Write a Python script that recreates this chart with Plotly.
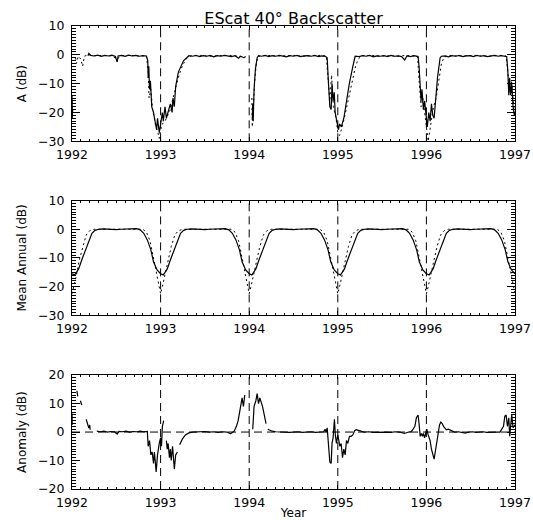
import plotly.graph_objects as go

# ---------------- data ----------------
# Panel 1: A (dB), solid series
a_year = [1992.000, 1992.004, 1992.008, None,
          1992.18, 1992.19, 1992.21, 1992.25, 1992.29, 1992.33, 1992.37, 1992.41, 1992.45, 1992.49,
          1992.51, 1992.52, 1992.56, 1992.60, 1992.64, 1992.68, 1992.72, 1992.76, 1992.80, 1992.84,
          1992.855, 1992.86, 1992.867, 1992.875, 1992.885, 1992.90, 1992.92, 1992.94, 1992.955,
          1992.965, 1992.985, 1993.00, 1993.02, 1993.03, 1993.05, 1993.065, 1993.085, 1993.11,
          1993.13, 1993.14, 1993.155, 1993.17, 1993.20, 1993.26, 1993.32, 1993.36, 1993.40,
          1993.44, 1993.48, 1993.52, 1993.56, 1993.60, 1993.64, 1993.68, 1993.72, 1993.76,
          1993.80, 1993.84, 1993.88, 1993.90, 1993.94, 1993.96, None,
          1994.035, 1994.04, 1994.045, 1994.055, 1994.07, 1994.09, 1994.105, 1994.14, 1994.18,
          1994.22, 1994.26, 1994.30, 1994.34, 1994.38, 1994.42, 1994.46, 1994.50, 1994.54,
          1994.58, 1994.62, 1994.66, 1994.70, 1994.74, 1994.78, 1994.82, 1994.86,
          1994.88, 1994.895, 1994.91, 1994.925, 1994.935, 1994.947, 1994.96, 1994.97, 1994.99,
          1995.007, 1995.02, 1995.04, 1995.068, 1995.098, 1995.13, 1995.17, 1995.196,
          1995.24, 1995.28, 1995.32, 1995.36, 1995.40, 1995.44, 1995.48, 1995.52, 1995.56,
          1995.60, 1995.64, 1995.68, 1995.72, 1995.755, 1995.78, 1995.82, 1995.86, 1995.906,
          1995.917, 1995.93, 1995.94, 1995.95, 1995.966, 1995.98, 1996.00, 1996.01, 1996.027,
          1996.042, 1996.057, 1996.072, 1996.087, 1996.10, 1996.125, 1996.155, 1996.17,
          1996.21, 1996.25, 1996.29, 1996.33, 1996.37, 1996.41, 1996.45, 1996.49, 1996.53,
          1996.57, 1996.61, 1996.65, 1996.69, 1996.73, 1996.77, 1996.81, 1996.85, 1996.88,
          1996.906, 1996.918, 1996.93, 1996.94, 1996.95, 1996.963, 1996.978, 1996.993, 1997.0]
a_db = [-14, -21, -19, None,
        -0.3, 0.5, -0.2, -0.4, -0.1, -0.5, -0.2, -0.4, -0.1, -0.6,
        -2.5, -0.4, -0.2, -0.5, -0.1, -0.4, -0.2, -0.5, -0.3, -0.4,
        -2, -8, -4, -12, -9, -18, -20, -23, -26,
        -22, -27, -24, -20, -23, -18, -22, -20, -17,
        -20, -15, -18, -11, -6, -2, -0.3, -0.5, -0.2,
        -0.6, -0.3, -0.5, -0.2, -0.7, -0.3, -0.5, -0.2, -0.4,
        -0.6, -0.3, -1.2, -0.5, -1.0, -0.6, None,
        -22, -17, -23, -12, -5, -1, -0.3, -0.5, -0.2,
        -0.6, -0.3, -0.5, -0.2, -0.4, -0.7, -0.3, -0.5, -0.2,
        -0.6, -0.4, -0.3, -0.5, -0.2, -0.6, -0.4, -0.5,
        -1, -10, -18, -19, -10, -16, -13, -20, -24,
        -26, -24, -25, -22, -16, -10, -4, -0.5,
        -0.6, -0.3, -0.5, -0.2, -0.7, -0.4, -0.5, -0.3, -0.6,
        -0.2, -0.5, -0.4, -0.6, -1.8, -0.4, -0.6, -0.3, -0.6,
        -4, -14, -16, -12, -19, -16, -22, -25, -20,
        -23, -17, -21, -22, -16, -8, -1, -0.5,
        -0.4, -0.7, -0.3, -0.5, -0.2, -0.6, -0.4, -0.3, -0.6,
        -0.2, -0.5, -0.3, -0.6, -0.4, -0.2, -0.5, -0.3, -0.5,
        -0.6, -5, -14, -8, -14, -10, -18, -21, -20]

# Panel 1: second (dotted) series
b_year = [1992.000, 1992.005, None,
          1992.04, 1992.05, 1992.07, 1992.10, 1992.12, 1992.14, 1992.18, 1992.25, 1992.35,
          1992.45, 1992.51, 1992.55, 1992.65, 1992.75, 1992.84,
          1992.86, 1992.87, 1992.89, 1992.91, 1992.94, 1992.97, 1992.985, 1993.00, 1993.02,
          1993.05, 1993.08, 1993.11, 1993.14, 1993.17, 1993.20, 1993.23, 1993.26, 1993.30,
          1993.35, 1993.45, 1993.55, 1993.65, 1993.75, 1993.85, 1993.95, None,
          1994.03, 1994.035, 1994.045, 1994.06, 1994.08, 1994.10, 1994.20, 1994.30, 1994.40,
          1994.50, 1994.60, 1994.70, 1994.80, 1994.87,
          1994.89, 1994.91, 1994.93, 1994.95, 1994.98, 1995.00, 1995.02, 1995.05, 1995.08,
          1995.11, 1995.14, 1995.17, 1995.20, 1995.23, 1995.27, 1995.37, 1995.47, 1995.57,
          1995.67, 1995.77, 1995.85, 1995.90,
          1995.92, 1995.94, 1995.96, 1995.98, 1996.00, 1996.02, 1996.04, 1996.06, 1996.08,
          1996.11, 1996.14, 1996.17, 1996.20, 1996.25, 1996.35, 1996.45, 1996.55, 1996.65,
          1996.75, 1996.85, 1996.90,
          1996.92, 1996.94, 1996.96, 1996.98, 1996.995]
b_db = [-16, -22, None,
        -1, -3, -0.5, -1.5, -4, -0.5, 0, -0.3, -0.2,
        -0.4, -1.5, -0.3, -0.2, -0.4, -0.3,
        -6, -15, -12, -19, -24, -27, -29, -26, -24,
        -23, -21, -19, -15, -11, -8, -5, -3, -1,
        -0.3, -0.2, -0.5, -0.3, -0.2, -0.4, -0.8, None,
        -15, -25, -20, -10, -3, -0.5, -0.2, -0.4, -0.3,
        -0.2, -0.5, -0.3, -0.2, -0.4,
        -8, -16, -7, -18, -22, -27, -28, -25, -21,
        -17, -13, -8, -4, -1.5, -0.3, -0.2, -0.4, -0.3,
        -0.5, -0.2, -0.4, -0.5,
        -10, -18, -15, -21, -25, -30, -26, -21, -18,
        -15, -9, -3, -0.8, -0.2, -0.4, -0.3, -0.2, -0.5,
        -0.3, -0.2, -0.4,
        -6, -12, -9, -16, -21]

# Panel 2: mean annual cycle (fraction of year, dB), repeated each year
cycle_phase = [0.00, 0.03, 0.05, 0.075, 0.11, 0.15, 0.19, 0.225, 0.26, 0.30, 0.35, 0.40,
               0.45, 0.50, 0.55, 0.60, 0.65, 0.70, 0.73, 0.77, 0.81, 0.85, 0.89, 0.92, 0.96]
cycle_solid = [-15.5, -15.9, -15.0, -13.8, -10.7, -7.2, -3.7, -1.4, -0.4, 0.0, 0.1, 0.0,
               -0.1, -0.1, 0.0, 0.1, 0.2, 0.3, 0.2, -0.2, -1.4, -3.7, -7.2, -11.3, -14.2]
dot_phase = [0.00, 0.02, 0.05, 0.08, 0.12, 0.16, 0.20, 0.25, 0.35, 0.45, 0.55, 0.65,
             0.75, 0.80, 0.84, 0.88, 0.92, 0.95, 0.98]
cycle_dotted = [-22.5, -20, -16, -11, -6, -2, -0.5, 0.0, 0.0, -0.1, 0.0, 0.0,
                0.0, 0.0, -1, -4, -10, -15, -20]
years = [1992, 1993, 1994, 1995, 1996]
end_year = 1997

# Panel 3: anomaly (dB)
c_year = [1992.0, 1992.003, None, 1992.055, 1992.065, None, 1992.095, 1992.11, None,
          1992.16, 1992.175, 1992.19, 1992.20, 1992.205, None,
          1992.28, 1992.32, 1992.36, 1992.40, 1992.44, 1992.48, 1992.51, 1992.53, 1992.57,
          1992.61, 1992.65, 1992.69, 1992.73, 1992.77, 1992.81, 1992.85,
          1992.86, 1992.875, 1992.89, 1992.905, 1992.92, 1992.93, 1992.95, 1992.965, 1992.985,
          1993.00, 1993.01, 1993.02, 1993.035, None,
          1993.065, 1993.075, 1993.085, 1993.10, 1993.11, 1993.12, 1993.135, 1993.155, 1993.17,
          1993.19, None,
          1993.215, 1993.245, 1993.28, 1993.32, 1993.36, 1993.40, 1993.45, 1993.50, 1993.55,
          1993.60, 1993.65, 1993.70, 1993.75, 1993.79, 1993.83, 1993.856, 1993.875, 1993.90,
          1993.92, 1993.935, 1993.95, None,
          1994.04, 1994.055, 1994.075, 1994.09, 1994.105, 1994.12, 1994.135, 1994.15, 1994.17,
          1994.19, None,
          1994.21, 1994.225, 1994.245, 1994.26, 1994.30, 1994.35, 1994.40, 1994.45, 1994.50,
          1994.55, 1994.60, 1994.65, 1994.70, 1994.75, 1994.80, 1994.84,
          1994.857, 1994.868, 1994.88, 1994.894, 1994.91, 1994.925, 1994.935, 1994.947, 1994.962,
          1994.972, 1994.985, 1995.00, 1995.01, 1995.023, 1995.038, 1995.053, 1995.068, 1995.083,
          1995.098, 1995.113, 1995.132, 1995.15, 1995.17, 1995.19, 1995.208, 1995.23, 1995.26,
          1995.30, 1995.35, 1995.40, 1995.45, 1995.50, 1995.55, 1995.60, 1995.65, 1995.70,
          1995.75, 1995.80, 1995.83,
          1995.85, 1995.87, 1995.887, 1995.906, 1995.917, 1995.93, 1995.944, 1995.955, 1995.966,
          1995.98, 1995.992, 1996.004, 1996.02, 1996.03, 1996.042, 1996.057, 1996.072, 1996.087,
          1996.10, 1996.118, 1996.133, 1996.148, 1996.163, 1996.178, 1996.193, 1996.208, 1996.225,
          1996.246, 1996.28, 1996.32, 1996.36, 1996.40, 1996.44, 1996.48, 1996.52, 1996.56,
          1996.60, 1996.64, 1996.68, 1996.72, 1996.76, 1996.80, 1996.83,
          1996.85, 1996.87, 1996.885, 1996.90, 1996.915, 1996.93, 1996.94, 1996.952, 1996.963,
          1996.978, 1996.99, 1997.0]
c_db = [6.5, 2.6, None, 14.5, 12.5, None, 11, 9.5, None,
        4.5, 3, 1.4, 2.5, 0.8, None,
        0.3, 0.1, 0.3, 0.0, 0.2, 0.1, -0.7, 0.2, 0.1,
        0.3, 0.0, 0.2, 0.1, 0.3, 0.1, 0.2,
        -5, -3, -8, -7, -11, -7, -14, -8, -4,
        -2, -5, 2, 4, None,
        -3, -6, -4, -9, -6, -10, -5, -13, -8,
        -7, None,
        -4.5, -2.5, -1, -0.3, 0.0, 0.1, 0.0, 0.2, 0.0,
        0.1, -0.1, 0.1, 0.0, -0.6, 0.3, 2, 4, 8,
        12, 9, 13, None,
        1, 9, 11, 13.5, 10, 12, 10.5, 9, 6,
        3, None,
        1, 0.8, 0.5, 0.3, 0.1, 0.0, 0.1, -0.1, 0.0,
        0.1, -0.1, 0.0, 0.1, -0.1, 0.0, 0.1,
        1, 0, 1.5, -5, -10.5, -11, -4, -2, 4.5,
        -1, -4, -1, -3, -5, -4, -9, -6, -8,
        -3, -4, -1.5, -1.5, -1, 0.5, 0.8, 0.5, 0.3,
        0.0, 0.1, -0.1, 0.0, 0.1, 0.0, -0.1, 0.1, 0.0,
        -0.5, 0.0, 0.2,
        1, 2, 5, 6, 3, -1.5, -0.5, -1.5, -0.5,
        -2, -0.5, 1, -1, -2, -3, -6, -8, -9.5,
        -7, -3, 0.5, 2.5, 3.5, 3, 2, 1.5, 0.8,
        1, 0.5, 0.0, 0.1, -0.1, -0.4, 0.0, 0.1, -0.1,
        0.0, 0.1, -0.1, 0.0, 0.1, 0.0, 0.0,
        1, 2, 5.5, 6, 2, 5, -1.5, 4, 6,
        1.5, 2, 2.5]

year_marks = [1993, 1994, 1995, 1996]
anomaly_ref = 0
x_ticks = [1992, 1993, 1994, 1995, 1996, 1997]
x_range = [1992, 1997]
x_minor_step = 0.1
y_minor_step = 1

# ---------------- build mean-annual series from the read cycle ----------------
m_year, m_solid = [], []
d_year, d_dotted = [], []
for y in years:
    for p, v in zip(cycle_phase, cycle_solid):
        m_year.append(y + p)
        m_solid.append(v)
    for p, v in zip(dot_phase, cycle_dotted):
        d_year.append(y + p)
        d_dotted.append(v)
m_year.append(end_year + cycle_phase[0]); m_solid.append(cycle_solid[0])
d_year.append(end_year + dot_phase[0]); d_dotted.append(cycle_dotted[0])

FONT = "DejaVu Sans"
solid = dict(color="black", width=1.2)
dotted = dict(color="black", width=1, dash="2px,3px")

panels = [
    dict(dom=[0.751, 1.0], rng=[-30, 10], title="A (dB)"),
    dict(dom=[0.375, 0.623], rng=[-30, 10], title="Mean Annual (dB)"),
    dict(dom=[0.0, 0.246], rng=[-20, 20], title="Anomaly (dB)"),
]

fig = go.Figure()
fig.add_trace(go.Scatter(x=b_year, y=b_db, mode="lines", line=dotted, xaxis="x", yaxis="y"))
fig.add_trace(go.Scatter(x=a_year, y=a_db, mode="lines", line=solid, xaxis="x", yaxis="y"))
fig.add_trace(go.Scatter(x=d_year, y=d_dotted, mode="lines", line=dotted, xaxis="x2", yaxis="y2"))
fig.add_trace(go.Scatter(x=m_year, y=m_solid, mode="lines", line=solid, xaxis="x2", yaxis="y2"))
fig.add_trace(go.Scatter(x=c_year, y=c_db, mode="lines", line=solid, xaxis="x3", yaxis="y3"))

# invisible traces carrying the minor-tick overlay axes
for i, p in enumerate(panels):
    fig.add_trace(go.Scatter(x=[x_range[0]], y=[p["rng"][0]], mode="markers",
                             marker=dict(opacity=0), hoverinfo="skip",
                             xaxis="x%d" % (i + 4), yaxis="y%d" % (i + 4)))

dash_style = dict(color="black", width=1, dash="8px,5px")
for ax in ["", "2", "3"]:
    for ym in year_marks:
        fig.add_shape(type="line", xref="x" + ax, yref="y" + ax + " domain",
                      x0=ym, x1=ym, y0=0, y1=1, line=dash_style)
fig.add_shape(type="line", xref="x3 domain", yref="y3", x0=0, x1=1,
              y0=anomaly_ref, y1=anomaly_ref, line=dash_style)

tickfont = dict(family=FONT, size=12.5, color="black")
titlefont = dict(family=FONT, size=12, color="black")

layout = dict(
    width=533, height=520,
    margin=dict(l=72, r=18, t=26, b=31, autoexpand=False),
    paper_bgcolor="white", plot_bgcolor="white",
    showlegend=False,
    font=dict(family=FONT, color="black"),
    title=dict(text="EScat 40° Backscatter", x=0.5, xref="paper", xanchor="center",
               y=1 - 18 / 520, yref="container", yanchor="middle",
               font=dict(family=FONT, size=16, color="black")),
)

for i, p in enumerate(panels):
    n = "" if i == 0 else str(i + 1)
    xa = dict(anchor="y" + n, domain=[0, 1], range=x_range, tickvals=x_ticks,
              ticktext=[str(t) for t in x_ticks], automargin=False,
              showline=True, linecolor="black", linewidth=1, mirror="allticks",
              ticks="inside", ticklen=4, tickwidth=1, tickcolor="black",
              showgrid=False, zeroline=False,
              tickfont=tickfont, ticklabelstandoff=2, ticklabeloverflow="allow")
    if i == 2:
        xa["title"] = dict(text="Year", font=titlefont, standoff=6)
    ya = dict(anchor="x" + n, domain=p["dom"], range=p["rng"], dtick=10, tick0=0,
              automargin=False,
              showline=True, linecolor="black", linewidth=1, mirror="allticks",
              ticks="inside", ticklen=8, tickwidth=1, tickcolor="black",
              showgrid=False, zeroline=False,
              tickfont=tickfont, ticklabelstandoff=4,
              title=dict(text=p["title"], font=titlefont, standoff=8))
    layout["xaxis" + n] = xa
    layout["yaxis" + n] = ya
    # minor tick overlays
    m = str(i + 4)
    layout["xaxis" + m] = dict(overlaying="x" + n, anchor="y" + n, range=x_range,
                               tick0=x_range[0], dtick=x_minor_step, ticks="inside", ticklen=2,
                               tickwidth=1, tickcolor="black", mirror="allticks",
                               automargin=False, showline=False, showticklabels=False,
                               showgrid=False, zeroline=False)
    layout["yaxis" + m] = dict(overlaying="y" + n, anchor="x" + n, domain=p["dom"],
                               range=p["rng"], tick0=0, dtick=y_minor_step, ticks="inside",
                               ticklen=4, tickwidth=1, tickcolor="black", mirror="allticks",
                               automargin=False, showline=False, showticklabels=False,
                               showgrid=False, zeroline=False)

fig.update_layout(**layout)
fig.write_html("out.html", config={"displayModeBar": False},
               post_script="document.body.style.margin='0';document.body.style.padding='0';")
